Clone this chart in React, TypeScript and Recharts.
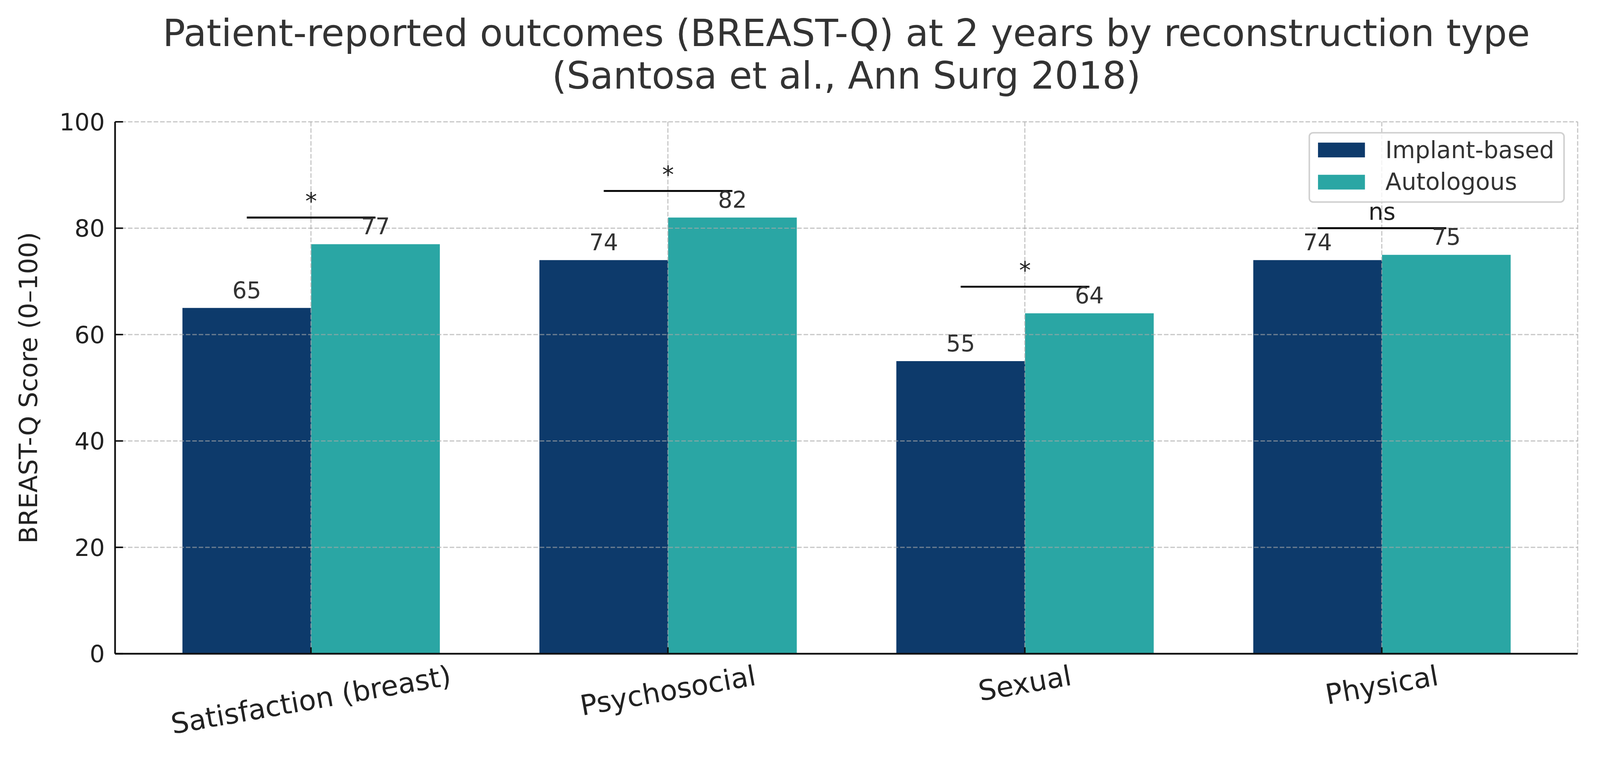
import { useEffect, useState } from "react";
import { BarChart, Bar, XAxis, YAxis, CartesianGrid, Legend, LabelList } from "recharts";

// --- data ---
const categories = ["Satisfaction (breast)", "Psychosocial", "Sexual", "Physical"];
const implantScores = [65, 74, 55, 74];
const autologousScores = [77, 82, 64, 75];
const significance = ["*", "*", "*", "ns"];
const bracketLevels = [82, 87, 69, 80];
const yTicks = [0, 20, 40, 60, 80, 100];
const seriesNames = ["Implant-based", "Autologous"];
const titleLines = [
  "Patient-reported outcomes (BREAST-Q) at 2 years by reconstruction type",
  "(Santosa et al., Ann Surg 2018)",
];
const yAxisTitle = "BREAST-Q Score (0\u2013100)";

const data = categories.map((name, i) => ({
  name,
  implant: implantScores[i],
  autologous: autologousScores[i],
  sig: significance[i],
  bracket: bracketLevels[i],
}));

const W = 4227;
const H = 1980;
const NAVY = "#0d3a6b";
const TEAL = "#2aa6a4";
const FONT = "'DejaVu Sans', 'Noto Sans', sans-serif";
const X_FONT = 74;
const X_ANGLE = 10;

let measureCtx: CanvasRenderingContext2D | null = null;
function textWidth(s: string, size: number) {
  if (!measureCtx && typeof document !== "undefined") {
    measureCtx = document.createElement("canvas").getContext("2d");
  }
  if (!measureCtx) return s.length * size * 0.6;
  measureCtx.font = `${size}px "DejaVu Sans"`;
  return measureCtx.measureText(s).width;
}

// rotated category label, top of its rotated box sits just under the axis
// eslint-disable-next-line @typescript-eslint/no-explicit-any
function XTick(props: any) {
  const { x, y, payload } = props;
  const len = textWidth(payload.value, X_FONT);
  const a = (X_ANGLE * Math.PI) / 180;
  const cy = y + (len * Math.sin(a) + X_FONT * 0.95 * Math.cos(a)) / 2;
  return (
    <text
      x={x}
      y={cy}
      transform={`rotate(${-X_ANGLE} ${x} ${cy})`}
      textAnchor="middle"
      dominantBaseline="central"
      fontFamily={FONT}
      fontSize={X_FONT}
      fill="#222"
    >
      {payload.value}
    </text>
  );
}

// significance bracket spanning both bar centres of a group; drawn in the
// label layer so it sits above the grid like the original
// eslint-disable-next-line @typescript-eslint/no-explicit-any
function Bracket(props: any) {
  const vb = props.viewBox ?? props;
  const row = data[props.index];
  if (!row || vb == null) return null;
  const { x, y, width, height } = vb;
  const base = y + height;
  const perUnit = height / row.autologous;
  const lineY = base - row.bracket * perUnit;
  const cx = x; // junction between the two bars
  return (
    <g>
      <line x1={cx - width / 2} x2={cx + width / 2} y1={lineY} y2={lineY} stroke="#000" strokeWidth={5} />
      <text x={cx} y={lineY - 22} textAnchor="middle" fontFamily={FONT} fontSize={62} fill="#222">
        {row.sig}
      </text>
    </g>
  );
}

function LegendBox() {
  const colors = [NAVY, TEAL];
  return (
    <div
      style={{
        width: 677,
        height: 187,
        boxSizing: "border-box",
        border: "4px solid #d0d0d0",
        borderRadius: 12,
        background: "rgba(255,255,255,0.8)",
      }}
    >
      <svg width={669} height={179} style={{ display: "block" }}>
        {seriesNames.map((n, i) => (
          <g key={n}>
            <rect x={21} y={24 + i * 85} width={124} height={39} fill={colors[i]} />
            <text x={199} y={65 + i * 84} fontFamily={FONT} fontSize={62} fill="#333">
              {n}
            </text>
          </g>
        ))}
      </svg>
    </div>
  );
}

// the page we get can be a little smaller than the nominal size; shrink to fit
function useFitScale() {
  const calc = () =>
    typeof window === "undefined" ? 1 : Math.min(1, window.innerWidth / W, window.innerHeight / H);
  const [s, setS] = useState(calc);
  useEffect(() => {
    document.body.style.margin = "0";
    document.body.style.overflow = "hidden";
    const onResize = () => setS(calc());
    onResize();
    window.addEventListener("resize", onResize);
    return () => window.removeEventListener("resize", onResize);
  }, []);
  return s;
}

export default function App() {
  const scale = useFitScale();
  return (
    <div
      style={{
        position: "absolute",
        left: 0,
        top: 0,
        width: W,
        height: H,
        background: "#fff",
        transform: `scale(${scale})`,
        transformOrigin: "0 0",
      }}
    >
      <BarChart
        width={W}
        height={H}
        data={data}
        margin={{ top: 322, right: 59, bottom: 0, left: 0 }}
        barGap={0}
      >
        <XAxis
          dataKey="name"
          height={252}
          padding={{ left: 46, right: 46 }}
          axisLine={{ stroke: "#111", strokeWidth: 4.5 }}
          tickLine={{ stroke: "#111", strokeWidth: 4 }}
          tickSize={-17}
          tickMargin={39}
          tick={XTick}
          interval={0}
        />
        <YAxis
          width={304}
          domain={[0, 100]}
          ticks={yTicks}
          axisLine={{ stroke: "#111", strokeWidth: 4.5 }}
          tickLine={{ stroke: "#111", strokeWidth: 4 }}
          tickSize={-21}
          tickMargin={48}
          tick={{ fill: "#222", fontSize: 63, fontFamily: FONT }}
          label={{
            // eslint-disable-next-line @typescript-eslint/no-explicit-any
            content: (p: any) => {
              const vb = p.viewBox;
              const cx = vb.x + 98;
              const cy = vb.y + vb.height / 2;
              return (
                <text
                  x={cx}
                  y={cy}
                  transform={`rotate(-90 ${cx} ${cy})`}
                  textAnchor="middle"
                  fontFamily={FONT}
                  fontSize={67}
                  fill="#222"
                >
                  {yAxisTitle}
                </text>
              );
            },
          }}
        />
        <Bar dataKey="implant" name={seriesNames[0]} fill={NAVY} barSize={340} isAnimationActive={false}>
          <LabelList dataKey="implant" position="top" offset={26} fill="#333" fontSize={60} fontFamily={FONT} />
        </Bar>
        <Bar dataKey="autologous" name={seriesNames[1]} fill={TEAL} barSize={340} isAnimationActive={false}>
          <LabelList dataKey="bracket" content={Bracket} />
          <LabelList dataKey="autologous" position="top" offset={26} fill="#333" fontSize={60} fontFamily={FONT} />
        </Bar>
        <CartesianGrid
          stroke="#a8a8a8"
          strokeOpacity={0.65}
          strokeDasharray="12 5"
          strokeWidth={3}
          zIndex={400}
        />
        <Legend
          layout="vertical"
          align="center"
          verticalAlign="middle"
          wrapperStyle={{ left: 3457, top: 349, right: "auto", bottom: "auto", width: 677, height: 187 }}
          content={() => <LegendBox />}
        />
      </BarChart>
      <svg width={W} height={300} style={{ position: "absolute", left: 0, top: 0, pointerEvents: "none" }}>
        {titleLines.map((t, i) => (
          <text key={t} x={2236} y={122 + i * 112} textAnchor="middle" fontFamily={FONT} fontSize={99} fill="#333">
            {t}
          </text>
        ))}
      </svg>
    </div>
  );
}
